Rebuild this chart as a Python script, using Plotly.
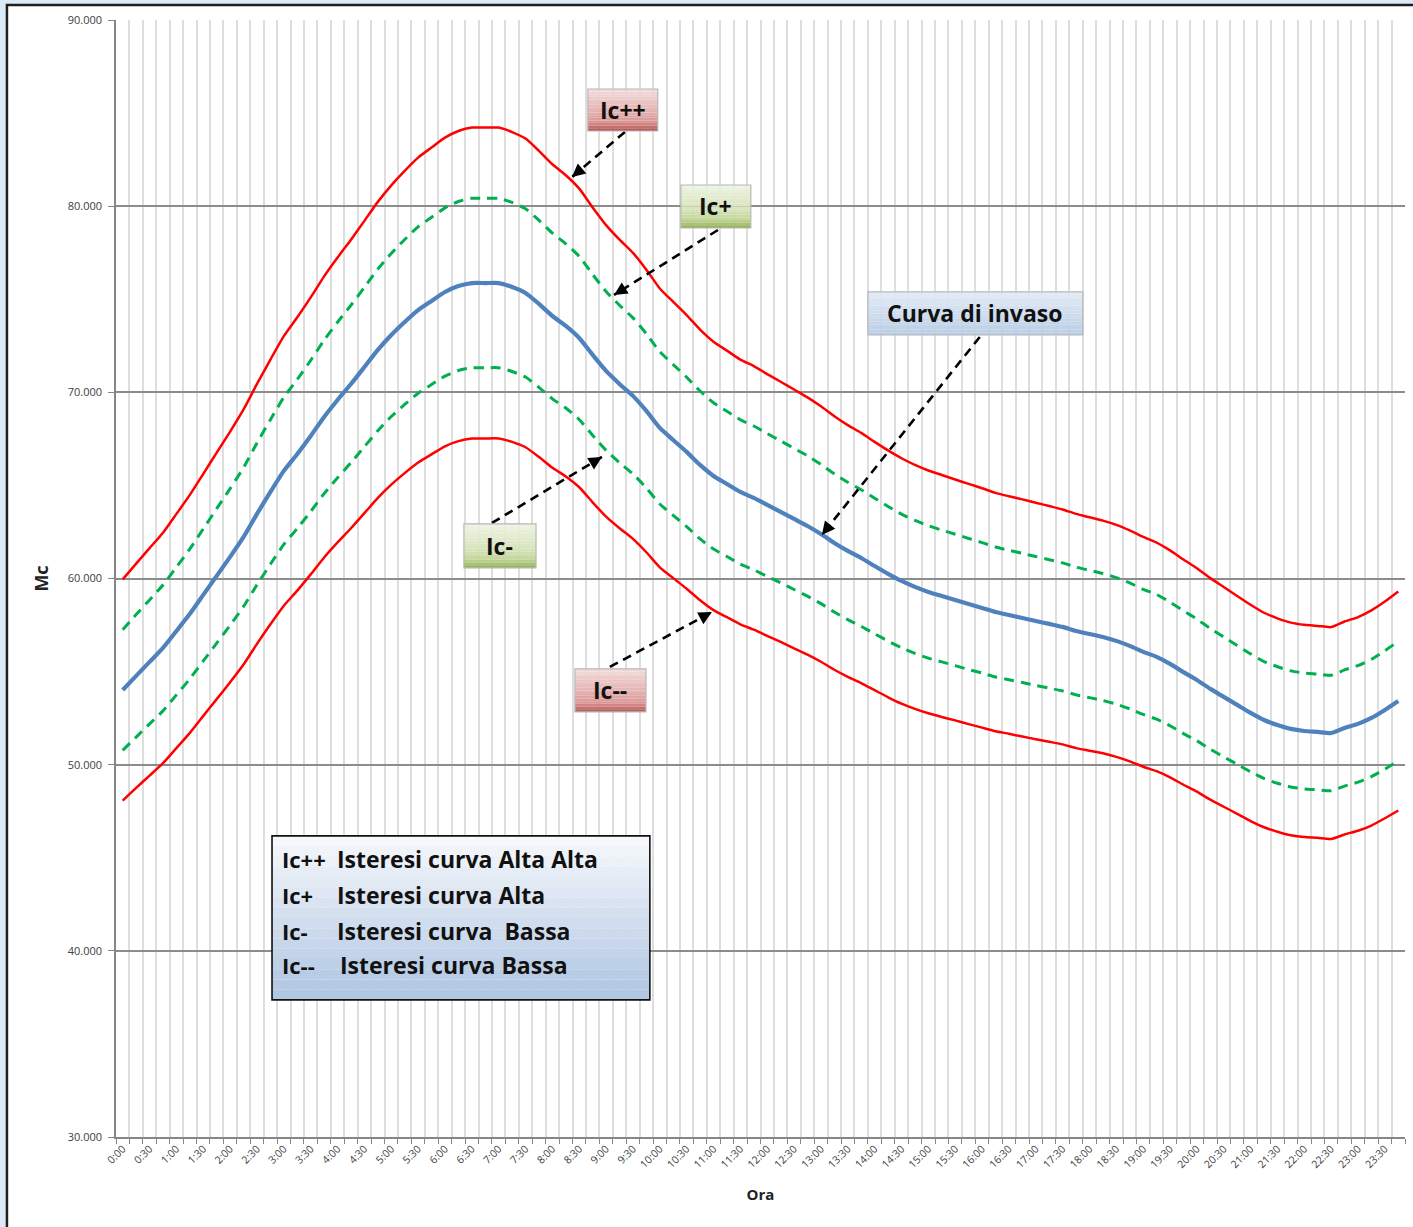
import plotly.graph_objects as go

# ---------------- data ----------------
ORA = [f"{h}:{m:02d}" for h in range(24) for m in (0, 15, 30, 45)]
TICK_LABELS = [lab if k % 2 == 0 else "" for k, lab in enumerate(ORA)]

CURVA_INVASO = [
    54010, 54770, 55520, 56270, 57180, 58100, 59120, 60140, 61160, 62230, 63470, 64650,
    65780, 66690, 67660, 68680, 69590, 70450, 71360, 72280, 73080, 73780, 74420, 74910,
    75390, 75710, 75870, 75870, 75870, 75660, 75340, 74750, 74100, 73570, 72920, 72010,
    71150, 70450, 69810, 69000, 68090, 67440, 66800, 66100, 65510, 65080, 64650, 64330,
    63950, 63580, 63200, 62820, 62390, 61910, 61480, 61100, 60670, 60250, 59870, 59550,
    59280, 59060, 58850, 58630, 58420, 58200, 58040, 57880, 57720, 57560, 57400, 57180,
    57020, 56860, 56650, 56380, 56060, 55790, 55410, 54970, 54550, 54070, 53640, 53210,
    52780, 52400, 52130, 51920, 51810, 51760, 51700, 51970, 52190, 52510, 52940, 53420,
]
IC_PP = [
    59950, 60800, 61630, 62460, 63470, 64490, 65620, 66760, 67890, 69080, 70450, 71760,
    73020, 74030, 75100, 76230, 77240, 78200, 79210, 80230, 81120, 81900, 82610, 83150,
    83680, 84040, 84220, 84220, 84220, 83980, 83630, 82970, 82250, 81660, 80940, 79930,
    78980, 78200, 77490, 76590, 75580, 74860, 74150, 73370, 72720, 72240, 71760, 71410,
    70980, 70570, 70150, 69730, 69250, 68720, 68240, 67820, 67340, 66880, 66460, 66100,
    65800, 65560, 65320, 65080, 64850, 64600, 64420, 64250, 64070, 63890, 63710, 63470,
    63290, 63110, 62880, 62580, 62230, 61930, 61510, 61020, 60550, 60020, 59540, 59060,
    58590, 58160, 57860, 57630, 57510, 57450, 57390, 57690, 57930, 58290, 58760, 59300,
]
IC_P = [
    57250, 58060, 58850, 59650, 60610, 61590, 62670, 63750, 64830, 65960, 67280, 68530,
    69730, 70690, 71720, 72800, 73770, 74680, 75640, 76620, 77460, 78210, 78890, 79400,
    79910, 80250, 80420, 80420, 80420, 80200, 79860, 79240, 78550, 77980, 77300, 76330,
    75420, 74680, 74000, 73140, 72180, 71490, 70810, 70070, 69440, 68980, 68530, 68190,
    67790, 67390, 66990, 66590, 66130, 65620, 65170, 64770, 64310, 63870, 63460, 63120,
    62840, 62600, 62380, 62150, 61930, 61690, 61520, 61350, 61180, 61010, 60840, 60610,
    60440, 60270, 60050, 59760, 59420, 59140, 58730, 58270, 57820, 57310, 56860, 56400,
    55950, 55540, 55260, 55040, 54920, 54870, 54800, 55090, 55320, 55660, 56120, 56630,
]
IC_M = [
    50770, 51480, 52190, 52890, 53750, 54610, 55570, 56530, 57490, 58500, 59660, 60770,
    61830, 62690, 63600, 64560, 65410, 66220, 67080, 67940, 68700, 69350, 69950, 70420,
    70870, 71170, 71320, 71320, 71320, 71120, 70820, 70270, 69650, 69160, 68540, 67690,
    66880, 66220, 65620, 64860, 64000, 63390, 62790, 62130, 61580, 61180, 60770, 60470,
    60110, 59770, 59410, 59050, 58650, 58200, 57790, 57430, 57030, 56640, 56280, 55980,
    55720, 55520, 55320, 55110, 54920, 54710, 54560, 54410, 54260, 54110, 53960, 53750,
    53600, 53450, 53250, 53000, 52700, 52440, 52090, 51670, 51280, 50830, 50420, 50020,
    49610, 49260, 49000, 48800, 48700, 48650, 48600, 48850, 49060, 49360, 49760, 50210,
]
IC_MM = [
    48070, 48750, 49410, 50080, 50890, 51710, 52620, 53520, 54430, 55380, 56490, 57540,
    58540, 59350, 60220, 61130, 61940, 62700, 63510, 64330, 65040, 65660, 66230, 66670,
    67100, 67380, 67520, 67520, 67520, 67340, 67050, 66530, 65950, 65480, 64900, 64090,
    63320, 62700, 62130, 61410, 60600, 60020, 59450, 58830, 58300, 57920, 57540, 57250,
    56920, 56590, 56250, 55910, 55530, 55100, 54720, 54380, 54000, 53620, 53280, 53000,
    52760, 52560, 52380, 52180, 51990, 51800, 51660, 51510, 51370, 51230, 51090, 50890,
    50750, 50610, 50420, 50180, 49890, 49650, 49320, 48920, 48550, 48120, 47740, 47360,
    46970, 46640, 46400, 46210, 46110, 46070, 46010, 46250, 46450, 46730, 47120, 47540,
]

LEGEND_PREFIX = ["Ic++", "Ic+", "Ic-", "Ic--"]
LEGEND_TEXT = ["Isteresi curva Alta Alta", "Isteresi curva Alta",
               "Isteresi curva\u00a0\u00a0Bassa", "Isteresi curva Bassa"]

FONT = "Open Sans"
RED = "#FF0000"
GREEN = "#00B050"
BLUE = "#4F81BD"
SMOOTH = 0.6

fig = go.Figure()
fig.add_trace(go.Scatter(x=ORA, y=IC_PP, mode="lines", name="Ic++",
                         line=dict(color=RED, width=2.5, shape="spline", smoothing=SMOOTH)))
fig.add_trace(go.Scatter(x=ORA, y=IC_P, mode="lines", name="Ic+",
                         line=dict(color=GREEN, width=3, dash="10px,7px", shape="spline",
                                   smoothing=SMOOTH)))
fig.add_trace(go.Scatter(x=ORA, y=IC_M, mode="lines", name="Ic-",
                         line=dict(color=GREEN, width=3, dash="10px,7px", shape="spline",
                                   smoothing=SMOOTH)))
fig.add_trace(go.Scatter(x=ORA, y=IC_MM, mode="lines", name="Ic--",
                         line=dict(color=RED, width=2.5, shape="spline", smoothing=SMOOTH)))
fig.add_trace(go.Scatter(x=ORA, y=CURVA_INVASO, mode="lines", name="Curva di invaso",
                         line=dict(color=BLUE, width=4.2, shape="spline", smoothing=SMOOTH)))

shapes = []
annotations = []

# outer frame
shapes.append(dict(type="rect", xref="paper", yref="paper", x0=-0.0846, x1=1.02,
                   y0=-0.1, y1=1.0134, fillcolor="white",
                   line=dict(color="#1E1E1E", width=2.5), layer="below"))


def hex2rgb(h):
    h = h.lstrip("#")
    return tuple(int(h[i:i + 2], 16) for i in (0, 2, 4))


def lerp(stops, t):
    for (p0, c0), (p1, c1) in zip(stops[:-1], stops[1:]):
        if p0 <= t <= p1:
            f = 0 if p1 == p0 else (t - p0) / (p1 - p0)
            a, b = hex2rgb(c0), hex2rgb(c1)
            return "rgb(%d,%d,%d)" % tuple(round(a[i] + (b[i] - a[i]) * f) for i in range(3))
    return stops[-1][1]


def grad_box(x0, x1, ytop, ybot, stops, border, bw=1.2, n=16):
    for k in range(n):
        ya = ytop + (ybot - ytop) * k / n
        yb = ytop + (ybot - ytop) * (k + 1) / n
        shapes.append(dict(type="rect", xref="x", yref="y", x0=x0, x1=x1, y0=yb, y1=ya,
                           fillcolor=lerp(stops, (k + 0.5) / n), line=dict(width=0),
                           layer="above"))
    shapes.append(dict(type="rect", xref="x", yref="y", x0=x0, x1=x1, y0=ybot, y1=ytop,
                       fillcolor="rgba(0,0,0,0)", line=dict(color=border, width=bw),
                       layer="above"))


RED_STOPS = [(0, "#F2DCDB"), (0.55, "#E3B1B0"), (0.8, "#D99594"), (1, "#B5504D")]
GREEN_STOPS = [(0, "#EEF4E3"), (0.55, "#D8E4BD"), (0.8, "#C4D79B"), (1, "#8FAE4E")]
BLUE_STOPS = [(0, "#E3EBF5"), (1, "#B9CDE5")]
LEG_STOPS = [(0, "#F7F9FC"), (1, "#AEC4E1")]


def dashed_arrow(tail, head, off):
    shapes.append(dict(type="line", xref="x", yref="y", x0=tail[0], y0=tail[1],
                       x1=head[0], y1=head[1], line=dict(color="black", width=2.6, dash="9px,6px"),
                       layer="above"))
    annotations.append(dict(x=head[0], y=head[1], xref="x", yref="y", text="",
                            showarrow=True, ax=off[0], ay=off[1], arrowhead=2,
                            arrowsize=1.1, arrowwidth=2.4, arrowcolor="black"))


boxes = [
    (34.64, 39.85, 86294, 84038, RED_STOPS, "Ic++", 37.25, 85166),
    (41.57, 46.78, 81138, 78828, GREEN_STOPS, "Ic+", 44.18, 80010),
    (55.50, 71.51, 75391, 73081, BLUE_STOPS, "Curva di invaso", 63.46, 74263),
    (25.41, 30.78, 62930, 60567, GREEN_STOPS, "Ic-", 28.09, 61748),
    (33.68, 38.97, 55142, 52833, RED_STOPS, "Ic--", 36.28, 54014),
]
arrows = [
    ((37.40, 83985), (33.46, 81568), (10.7, -9.1)),
    ((44.33, 78721), (36.59, 75230), (11.9, -7.4)),
    ((63.83, 72974), (52.07, 62339), (8.7, -10.9)),
    ((27.50, 62984), (35.69, 66529), (-12.0, 7.2)),
    ((36.28, 55250), (43.88, 58196), (-12.3, 6.6)),
]
for (tail, head, off) in arrows:
    dashed_arrow(tail, head, off)
for (x0, x1, yt, yb, st, txt, cx, cy) in boxes:
    grad_box(x0, x1, yt, yb, st, "#B8B8B8", bw=1.2)
    annotations.append(dict(x=cx, y=cy, xref="x", yref="y", text="<b>%s</b>" % txt,
                            showarrow=False, font=dict(family=FONT, size=23, color="#111111"),
                            xanchor="center", yanchor="middle"))

grad_box(11.12, 39.26, 46173, 37364, LEG_STOPS, "#111111", bw=1.6)
line_y = [44937, 43004, 41070, 39244]
text_x = [15.81, 15.81, 15.81, 16.03]
for k in range(4):
    annotations.append(dict(x=11.72, y=line_y[k], xref="x", yref="y",
                            text="<b>%s</b>" % LEGEND_PREFIX[k], showarrow=False,
                            font=dict(family=FONT, size=22, color="#111111"),
                            xanchor="left", yanchor="middle"))
    annotations.append(dict(x=text_x[k], y=line_y[k], xref="x", yref="y",
                            text="<b>%s</b>" % LEGEND_TEXT[k], showarrow=False,
                            font=dict(family=FONT, size=23, color="#111111"),
                            xanchor="left", yanchor="middle"))

fig.update_layout(
    width=1413, height=1227,
    margin=dict(l=116, r=8, t=20, b=90, autoexpand=False),
    paper_bgcolor="#DCEAF7",
    plot_bgcolor="white",
    showlegend=False,
    separators=",.",
    shapes=shapes,
    annotations=annotations,
    font=dict(family=FONT, color="#404040"),
    xaxis=dict(
        type="category", categoryorder="array", categoryarray=ORA,
        tickmode="array", tickvals=ORA, ticktext=TICK_LABELS,
        tickson="boundaries", range=[-0.5, 95.5],
        showgrid=True, gridcolor="#DEDEDE", gridwidth=1.6,
        showline=True, linecolor="#868686", linewidth=1.5,
        ticks="outside", ticklen=5, tickcolor="#868686",
        tickangle=-45, tickfont=dict(size=10.5, color="#404040", family=FONT),
        title=dict(text="<b>Ora</b>", font=dict(size=15, color="#222222", family=FONT), standoff=20),
        zeroline=False,
    ),
    yaxis=dict(
        range=[30000, 90000], dtick=10000, tick0=30000, tickformat=",d",
        showgrid=True, gridcolor="#8C8C8C", gridwidth=1.6,
        showline=True, linecolor="#868686", linewidth=1.5,
        ticks="outside", ticklen=6, tickcolor="#868686", ticklabelstandoff=4,
        tickfont=dict(size=11, color="#404040", family=FONT),
        title=dict(text="<b>Mc</b>", font=dict(size=18, color="#222222", family=FONT), standoff=14),
        zeroline=False,
    ),
)

fig.write_html("out.html", config={"displayModeBar": False},
               post_script="document.body.style.margin='0';document.body.style.overflow='hidden';")
